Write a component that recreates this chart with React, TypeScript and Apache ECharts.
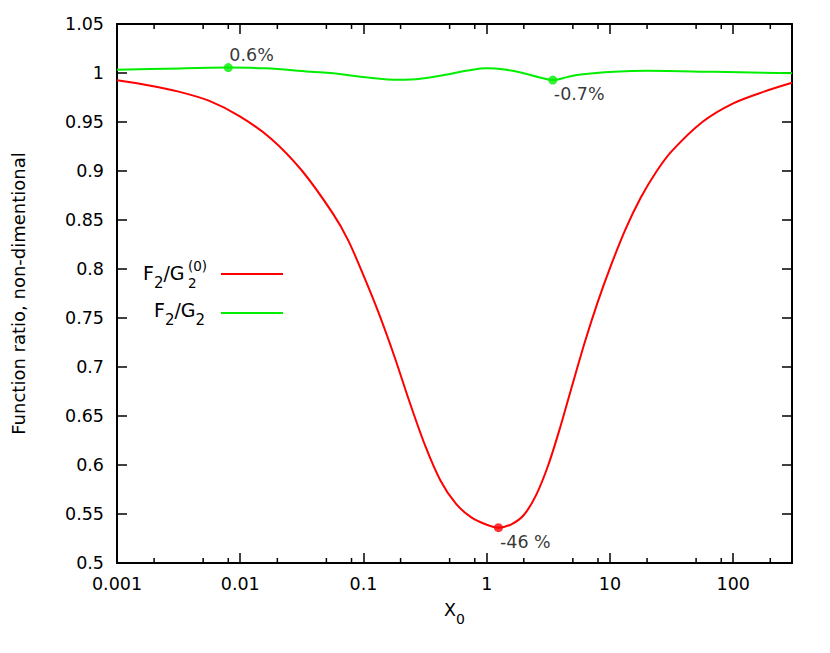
import React, { useEffect, useRef } from 'react';
import * as echarts from 'echarts';

const FONT = 'DejaVu Sans';
const FS = 17.5;

// X axis (log) tick labels
const xTickExps = [-3, -2, -1, 0, 1, 2];
const xTickLabels = ['0.001', '0.01', '0.1', '1', '10', '100'];
const xMinorTicks = [0.002, 0.005, 0.008, 0.02, 0.05, 0.08, 0.2, 0.5, 0.8, 2, 5, 8, 20, 50, 80, 200];

// Y axis tick labels
const yTickLabels = ['0.5', '0.55', '0.6', '0.65', '0.7', '0.75', '0.8', '0.85', '0.9', '0.95', '1', '1.05'];

// F2/G2^(0) (red)
const redX = [0.001, 0.00178, 0.00316, 0.00562, 0.01, 0.0178, 0.0316, 0.0562, 0.075, 0.1, 0.133, 0.178, 0.237, 0.316, 0.422, 0.562, 0.75, 1.0, 1.245, 1.585, 2.0, 2.51, 3.16, 3.98, 5.01, 6.31, 7.94, 10, 13.3, 17.8, 23.7, 31.6, 56.2, 100, 178, 300];
const redY = [0.9925, 0.9875, 0.981, 0.9715, 0.9555, 0.933, 0.9005, 0.857, 0.8295, 0.7935, 0.755, 0.711, 0.664, 0.62, 0.584, 0.5605, 0.5465, 0.539, 0.536, 0.5395, 0.549, 0.569, 0.6, 0.64, 0.684, 0.727, 0.766, 0.801, 0.84, 0.873, 0.899, 0.92, 0.95, 0.969, 0.981, 0.99];

// F2/G2 (green)
const greenX = [0.001, 0.0025, 0.008, 0.016, 0.037, 0.057, 0.095, 0.2, 0.3, 0.45, 0.7, 1.0, 1.4, 2.0, 2.7, 3.44, 4.5, 5.8, 10.8, 20, 70, 300];
const greenY = [1.0032, 1.0044, 1.0055, 1.0048, 1.0013, 0.9998, 0.9962, 0.993, 0.9945, 0.998, 1.0025, 1.0049, 1.0035, 0.9997, 0.9955, 0.9928, 0.9958, 0.9985, 1.0012, 1.0022, 1.0012, 0.9997];

// annotated points
const greenMarkX = [0.008, 3.44];
const greenMarkY = [1.0055, 0.9928];
const greenMarkText = ['0.6%', '-0.7%'];
const redMarkX = [1.245];
const redMarkY = [0.536];
const redMarkText = ['-46 %'];

const RED = '#ff0000';
const GREEN = '#00ee00';

const zip = (xs: number[], ys: number[]) => xs.map((x, i) => [x, ys[i]]);

const xFormatter = (v: number) => {
  const l = Math.log10(v);
  const e = Math.round(l);
  if (Math.abs(l - e) > 1e-6) return '';
  const i = xTickExps.indexOf(e);
  return i >= 0 ? xTickLabels[i] : '';
};
const yFormatter = (v: number) => {
  const i = Math.round((v - 0.5) / 0.05);
  return yTickLabels[i] ?? '';
};

const axisLine = { show: true, onZero: false, lineStyle: { color: '#000', width: 2 } };
const axisTick = { show: true, inside: true, length: 10, lineStyle: { color: '#000', width: 1.5 } };

const xCommon: any = {
  type: 'log',
  logBase: 10,
  min: 0.001,
  max: 300,
  gridIndex: 0,
  splitLine: { show: false },
  axisLine,
  axisTick,
};
const yCommon: any = {
  type: 'value',
  min: 0.5,
  max: 1.05,
  interval: 0.05,
  gridIndex: 0,
  splitLine: { show: false },
  axisLine,
  axisTick,
};

const rich = {
  n: { fontFamily: FONT, fontSize: FS, color: '#000' },
  s: { fontFamily: FONT, fontSize: 14, color: '#000', padding: [18, 0, 0, 0] },
};
const legRich = {
  n: { fontFamily: FONT, fontSize: 19, fill: '#000', color: '#000' },
  s: { fontFamily: FONT, fontSize: 15, fill: '#000', color: '#000', padding: [20, 0, 0, 0] },
};

const option: any = {
  animation: false,
  backgroundColor: '#fff',
  grid: { left: 117, right: 38, top: 24, bottom: 90, containLabel: false },
  xAxis: [
    {
      ...xCommon,
      position: 'bottom',
      axisLabel: { formatter: xFormatter, fontFamily: FONT, fontSize: FS, color: '#000', margin: 12 },
      name: '{n|X}{s|0}',
      nameLocation: 'middle',
      nameGap: 31,
      nameTextStyle: { rich },
    },
    { ...xCommon, position: 'top', axisLabel: { show: false } },
  ],
  yAxis: [
    {
      ...yCommon,
      position: 'left',
      axisLabel: { formatter: yFormatter, fontFamily: FONT, fontSize: FS, color: '#000', margin: 13 },
      name: 'Function ratio, non-dimentional',
      nameLocation: 'middle',
      nameRotate: 90,
      nameGap: 90,
      nameTextStyle: { fontFamily: FONT, fontSize: 18, color: '#000' },
    },
    { ...yCommon, position: 'right', axisLabel: { show: false } },
  ],
  series: [
    {
      type: 'custom',
      name: 'minorTicks',
      xAxisIndex: 0,
      yAxisIndex: 0,
      silent: true,
      data: xMinorTicks.map((v) => [v, 0.5]),
      encode: { x: 0, y: 1 },
      renderItem: (params: any, api: any) => {
        const x = api.value(0);
        const b = api.coord([x, 0.5]);
        const t = api.coord([x, 1.05]);
        const st = { stroke: '#000', lineWidth: 1.5 };
        return {
          type: 'group',
          children: [
            { type: 'line', shape: { x1: b[0], y1: b[1], x2: b[0], y2: b[1] - 5 }, style: st },
            { type: 'line', shape: { x1: t[0], y1: t[1], x2: t[0], y2: t[1] + 5 }, style: st },
          ],
        };
      },
      z: 5,
    },
    {
      type: 'line',
      name: 'red',
      data: zip(redX, redY),
      smooth: 0.3,
      showSymbol: false,
      lineStyle: { color: RED, width: 2 },
      itemStyle: { color: RED },
      z: 3,
    },
    {
      type: 'line',
      name: 'green',
      data: zip(greenX, greenY),
      smooth: 0.4,
      showSymbol: false,
      lineStyle: { color: GREEN, width: 2 },
      itemStyle: { color: GREEN },
      z: 4,
    },
    {
      type: 'scatter',
      name: 'greenMarks',
      symbolSize: 9,
      itemStyle: { color: GREEN },
      data: greenMarkX.map((x, i) => ({
        value: [x, greenMarkY[i]],
        label: {
          show: true,
          formatter: greenMarkText[i],
          position: i === 0 ? [5.5, -8] : [5.5, 18],
          align: 'left',
          verticalAlign: 'middle',
          fontFamily: FONT,
          fontSize: FS,
          color: '#000',
        },
      })),
      z: 6,
    },
    {
      type: 'scatter',
      name: 'redMarks',
      symbolSize: 9,
      itemStyle: { color: RED },
      data: redMarkX.map((x, i) => ({
        value: [x, redMarkY[i]],
        label: {
          show: true,
          formatter: redMarkText[i],
          position: [6, 18.5],
          align: 'left',
          verticalAlign: 'middle',
          fontFamily: FONT,
          fontSize: FS,
          color: '#000',
        },
      })),
      z: 6,
    },
  ],
  graphic: [
    {
      type: 'text',
      x: 143,
      y: 272.5,
      style: { text: '{n|F}{s|2}{n|/G}', rich: legRich, align: 'left', verticalAlign: 'middle' },
    },
    {
      type: 'text',
      x: 188,
      y: 266,
      style: { text: '(0)', fontFamily: FONT, fontSize: 13.5, fill: '#000', align: 'left', verticalAlign: 'middle' },
    },
    {
      type: 'text',
      x: 188,
      y: 283,
      style: { text: '2', fontFamily: FONT, fontSize: 13.5, fill: '#000', align: 'left', verticalAlign: 'middle' },
    },
    {
      type: 'text',
      x: 154,
      y: 309.5,
      style: { text: '{n|F}{s|2}{n|/G}{s|2}', rich: legRich, align: 'left', verticalAlign: 'middle' },
    },
    { type: 'line', shape: { x1: 221, y1: 274, x2: 283, y2: 274 }, style: { stroke: RED, lineWidth: 2 } },
    { type: 'line', shape: { x1: 221, y1: 313, x2: 283, y2: 313 }, style: { stroke: GREEN, lineWidth: 2 } },
  ],
};

export default function App() {
  const ref = useRef<HTMLDivElement>(null);
  useEffect(() => {
    const chart = echarts.init(ref.current!, null, { renderer: 'svg' });
    chart.setOption(option);
    return () => chart.dispose();
  }, []);
  return (
    <div
      ref={ref}
      style={{ position: 'fixed', left: 0, top: 0, width: 830, height: 653, background: '#fff' }}
    />
  );
}
